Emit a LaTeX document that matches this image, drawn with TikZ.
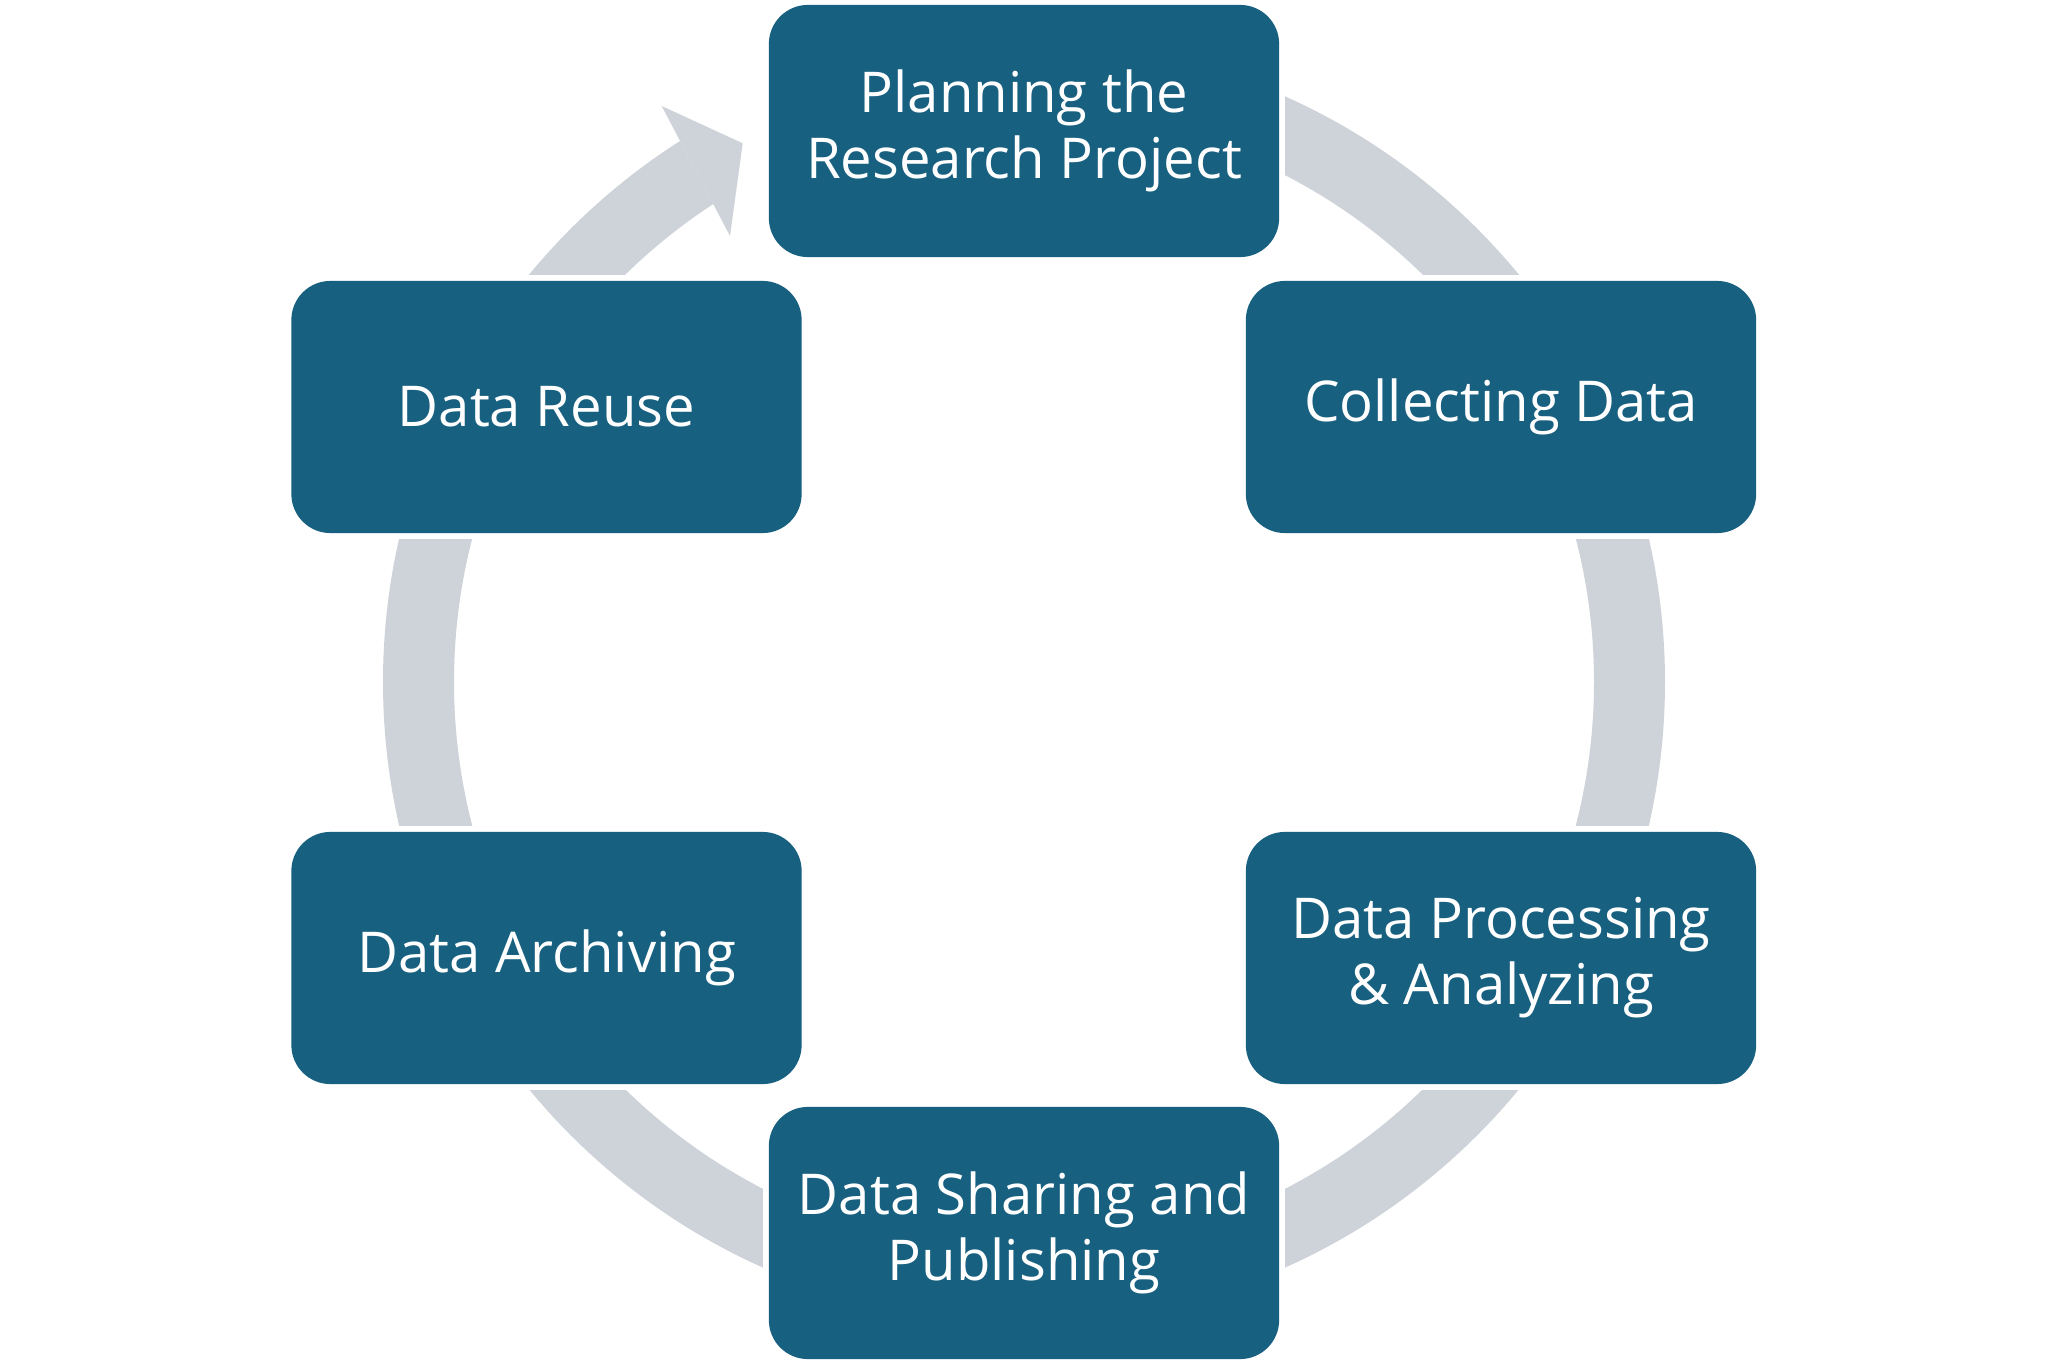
\documentclass[tikz,border=0pt]{standalone}
\usepackage{fontspec}
\setmainfont{Open Sans}
\usetikzlibrary{calc}
\definecolor{boxblue}{RGB}{23,96,128}
\definecolor{ringgray}{RGB}{205,211,217}
\begin{document}
\begin{tikzpicture}[x=0.01cm,y=-0.01cm,
  stagebox/.style={fill=boxblue, rounded corners=0.39cm, minimum width=5.10cm,
    minimum height=2.52cm, text=white, font=\fontsize{16}{18.8}\selectfont,
    align=center, inner sep=0pt},
  gap/.style={fill=white},
  band/.style={fill=ringgray}
]
\useasboundingbox (0,0) rectangle (2050,1370);
\coordinate (c) at (1024,682);
\coordinate (pPlan) at (1024,131);
\coordinate (pColl) at (1501,407);
\coordinate (pProc) at (1501,958);
\coordinate (pShar) at (1024,1233);
\coordinate (pArch) at (546.5,958);
\coordinate (pReus) at (546.5,407);
% ring
\fill[band, even odd rule] (c) circle[radius=641] (c) circle[radius=570];
% white gaps around the boxes
\foreach \p in {pPlan,pColl,pProc,pShar,pArch,pReus}
  \fill[gap] ($(\p)+(-261,-132)$) rectangle ($(\p)+(261,132)$);
% arrow end of the last segment
\fill[gap] (641.2,67) -- (763,20) -- (763,300) -- (744,262) -- cycle;
\coordinate (barbA) at (661.7,106);
\coordinate (tip) at (742.7,143.3);
\coordinate (barbB) at (730,236);
\fill[band] (barbA) -- (tip) -- (barbB) -- cycle;
% boxes
\node[stagebox] (plan) at (pPlan) {Planning the\\Research Project};
\node[stagebox] (coll) at (pColl) {Collecting Data};
\node[stagebox] (proc) at (pProc) {Data Processing\\\& Analyzing};
\node[stagebox] (shar) at (pShar) {Data Sharing and\\Publishing};
\node[stagebox] (arch) at (pArch) {Data Archiving};
\node[stagebox] (reus) at (pReus) {Data Reuse};
\end{tikzpicture}
\end{document}
